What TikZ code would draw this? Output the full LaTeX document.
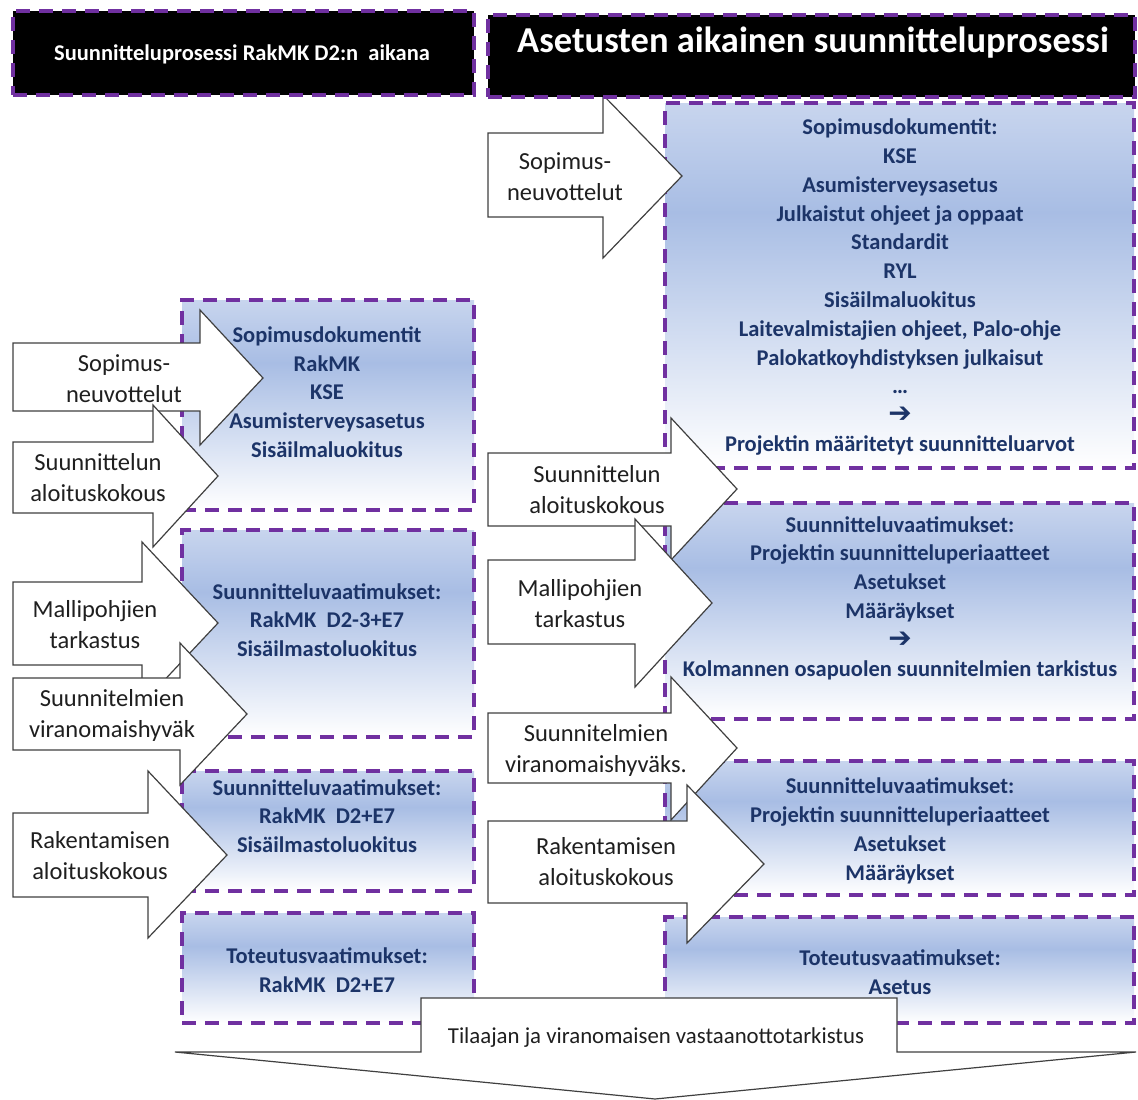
\documentclass[tikz,border=0pt]{standalone}
\usepackage{fontspec}
\setmainfont{Carlito}
\newfontfamily\symfont{DejaVu Sans}
\usetikzlibrary{fit}
\definecolor{dpurple}{RGB}{112,48,160}
\definecolor{navy}{RGB}{28,52,104}
\definecolor{boxtop}{RGB}{200,213,238}
\definecolor{boxmid}{RGB}{168,189,228}
\pgfdeclareverticalshading{boxshade}{100bp}{color(0bp)=(white); color(25bp)=(white); color(60bp)=(boxmid); color(75bp)=(boxtop); color(100bp)=(boxtop)}
\tikzset{
  dbox/.style={draw=dpurple, line width=3.5pt, dash pattern=on 14pt off 9pt, shading=boxshade, inner sep=0pt},
  hdr/.style={fill=black, draw=dpurple, line width=3.5pt, dash pattern=on 14pt off 9pt, inner sep=0pt},
  arr/.style={draw=black!75, line width=1.2pt, fill=white, line join=miter},
  btxt/.style={font=\fontsize{22.5}{28.8}\selectfont\bfseries, text=navy, align=center, inner sep=0pt},
  atxt/.style={font=\fontsize{24.5}{31}\selectfont, text=black!88, align=center, inner sep=0pt},
  htxt/.style={text=white, inner sep=0pt, font=\bfseries},
}
% x0, body top, body bottom, head base x, head top, head bottom, tip x, tip y
\newcommand\myarrow[8]{\draw[arr] (#1,#2) -- (#4,#2) -- (#4,#5) -- (#7,#8) -- (#4,#6) -- (#4,#3) -- (#1,#3) -- cycle;}
\newcommand\arw{{\symfont\fontsize{28}{28.8}\selectfont ➔}}
\begin{document}
\begin{tikzpicture}[x=1pt,y=-1pt]
\useasboundingbox (0,0) rectangle (1138,1100);

% ---------- boxes (left) ----------
\node[dbox, fit={(182,300) (474,510)}] (lb1) {};
\node[dbox, fit={(182,530) (474,737)}] (lb2) {};
\node[dbox, fit={(182,771) (474,891)}] (lb3) {};
\node[dbox, fit={(182,913) (474,1023)}] (lb4) {};
% ---------- boxes (right) ----------
\node[dbox, fit={(665,103) (1134,468)}] (rb1) {};
\node[dbox, fit={(665,503) (1134,719)}] (rb2) {};
\node[dbox, fit={(665,761) (1134,895)}] (rb3) {};
\node[dbox, fit={(665,917) (1134,1023)}] (rb4) {};

% box texts
\node[btxt] (lt1) at (327,392) {Sopimusdokumentit\\RakMK\\KSE\\Asumisterveysasetus\\Sisäilmaluokitus};
\node[btxt] (lt2) at (327,620) {Suunnitteluvaatimukset:\\RakMK~~D2-3+E7\\Sisäilmastoluokitus};
\node[btxt] (lt3) at (327,816) {Suunnitteluvaatimukset:\\RakMK~~D2+E7\\Sisäilmastoluokitus};
\node[btxt] (lt4) at (327,970) {Toteutusvaatimukset:\\RakMK~~D2+E7};
\node[btxt] (rt1) at (900,287) {Sopimusdokumentit:\\KSE\\Asumisterveysasetus\\Julkaistut ohjeet ja oppaat\\Standardit\\RYL\\Sisäilmaluokitus\\Laitevalmistajien ohjeet, Palo-ohje\\Palokatkoyhdistyksen julkaisut\\…\\\arw\\Projektin määritetyt suunnitteluarvot};
\node[btxt] (rt2) at (900,598) {Suunnitteluvaatimukset:\\Projektin suunnitteluperiaatteet\\Asetukset\\Määräykset\\\arw\\Kolmannen osapuolen suunnitelmien tarkistus};
\node[btxt] (rt3) at (900,831) {Suunnitteluvaatimukset:\\Projektin suunnitteluperiaatteet\\Asetukset\\Määräykset};
\node[btxt] (rt4) at (900,972) {Toteutusvaatimukset:\\Asetus};

% ---------- left arrows ----------
\myarrow{13}{343}{411}{200}{310}{445}{263}{378}
\node[atxt] (la1) at (124,379) {Sopimus-\\neuvottelut};
\myarrow{13}{442}{513}{153}{405}{547}{218}{476}
\node[atxt] (la2) at (98,478) {Suunnittelun\\aloituskokous};
\myarrow{13}{582}{665}{142}{542}{704}{218}{623}
\node[atxt] (la3) at (95,625) {Mallipohjien\\tarkastus};
\myarrow{13}{678}{750}{180}{643}{785}{247}{714}
\node[atxt] (la4) at (112,715) {Suunnitelmien\\viranomaishyväk};
\myarrow{13}{813}{897}{148}{771}{938}{227}{855}
\node[atxt] (la5) at (100,856) {Rakentamisen\\aloituskokous};

% ---------- right arrows ----------
\myarrow{488}{133}{217}{603}{95}{258}{682}{176}
\node[atxt] (ra1) at (565,177) {Sopimus-\\neuvottelut};
\myarrow{488}{453}{526}{671}{418}{560}{737}{489}
\node[atxt] (ra2) at (597,490) {Suunnittelun\\aloituskokous};
\myarrow{488}{560}{644}{635}{519}{687}{712}{603}
\node[atxt] (ra3) at (580,604) {Mallipohjien\\tarkastus};
\myarrow{488}{713}{783}{671}{677}{820}{737}{748}
\node[atxt] (ra4) at (596,750) {Suunnitelmien\\viranomaishyväks.};
\myarrow{488}{821}{903}{687}{785}{943}{764}{864}
\node[atxt] (ra5) at (606,862) {Rakentamisen\\aloituskokous};

% ---------- headers ----------
\node[hdr, fit={(13,11) (474,95)}] (h1) {};
\node[htxt, font=\fontsize{22.5}{26}\selectfont\bfseries] (h1t) at (242,54) {Suunnitteluprosessi RakMK D2:n~~aikana};
\node[hdr, fit={(488,15) (1135,97)}] (h2) {};
\node[htxt, font=\fontsize{36.5}{40}\selectfont\bfseries] (h2t) at (813,43) {Asetusten aikainen suunnitteluprosessi};

% ---------- bottom arrow ----------
\draw[arr] (421,998) -- (897,998) -- (897,1052) -- (1136,1052) -- (655,1099) -- (175,1052) -- (421,1052) -- cycle;
\node[atxt, font=\fontsize{22.8}{26}\selectfont] (bt) at (656,1038) {Tilaajan ja viranomaisen vastaanottotarkistus};
\end{tikzpicture}
\end{document}
